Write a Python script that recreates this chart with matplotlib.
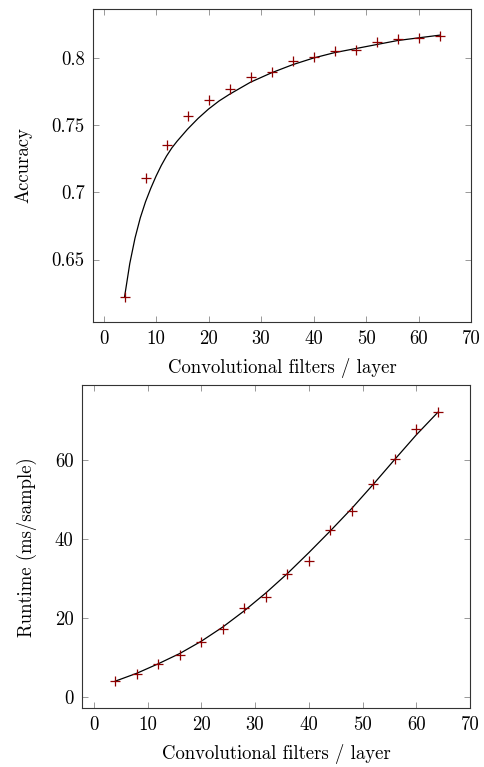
"""
Accuracy and runtime against number of convolutional filters per layer.
"""

import matplotlib
matplotlib.use("Agg")
import matplotlib.pyplot as plt
from matplotlib.ticker import FuncFormatter

plt.rcParams["font.family"] = "cmr10"
plt.rcParams["mathtext.fontset"] = "cm"
plt.rcParams["axes.formatter.use_mathtext"] = True
plt.rcParams["font.size"] = 13.5

# measured points
filters = [4, 8, 12, 16, 20, 24, 28, 32, 36, 40, 44, 48, 52, 56, 60, 64]
accuracy = [0.6222, 0.7104, 0.7351, 0.7572, 0.7688, 0.7768, 0.7862, 0.7894,
            0.7980, 0.8007, 0.8050, 0.8062, 0.8119, 0.8139, 0.8151, 0.8166]
runtime = [3.96, 5.82, 8.34, 10.62, 13.82, 17.19, 22.42, 25.28,
           31.18, 34.30, 42.14, 46.94, 53.94, 60.26, 67.76, 72.06]

# fitted curves
acc_fit_x = [4, 5, 6, 7, 8, 9, 10, 11, 12, 13, 14, 16, 18, 20, 22, 24,
             28, 32, 36, 40, 44, 48, 52, 56, 60, 64]
acc_fit_y = [0.622, 0.647, 0.666, 0.681, 0.693, 0.703, 0.712, 0.720, 0.727,
             0.733, 0.738, 0.747, 0.755, 0.762, 0.768, 0.773, 0.782, 0.789,
             0.795, 0.800, 0.804, 0.807, 0.810, 0.813, 0.815, 0.817]
rt_fit_x = [4, 8, 12, 16, 20, 24, 28, 32, 36, 40, 44, 48, 52, 56, 60, 64]
rt_fit_y = [4.0, 6.0, 8.4, 11.0, 14.1, 17.7, 21.8, 26.3, 31.2, 36.5, 42.0,
            47.7, 53.8, 60.1, 66.3, 72.0]

x_ticks = [0, 10, 20, 30, 40, 50, 60, 70]
acc_ticks = [0.65, 0.7, 0.75, 0.8]
rt_ticks = [0, 20, 40, 60]

mark_color = "#8e0000"
fmt = FuncFormatter(lambda v, p: f"{v:g}")


def style_axis(ax):
    for s in ax.spines.values():
        s.set_color("#333333")
        s.set_linewidth(0.8)
    ax.tick_params(direction="in", top=True, right=True, length=4.5,
                   width=0.6, color="#888888", labelsize=13.5, pad=6)
    ax.xaxis.set_major_formatter(fmt)
    ax.yaxis.set_major_formatter(fmt)


fig = plt.figure(figsize=(4.85, 7.67), dpi=100)

ax1 = fig.add_axes([0.1918, 0.5802, 0.7794, 0.4081])
ax1.plot(acc_fit_x, acc_fit_y, "-", color="black", linewidth=0.9)
ax1.plot(filters, accuracy, "+", color=mark_color, markersize=6.5,
         markeredgewidth=0.9)
ax1.set_xlim(-2, 70)
ax1.set_ylim(0.6035, 0.8365)
ax1.set_xticks(x_ticks)
ax1.set_yticks(acc_ticks)
ax1.set_xlabel("Convolutional filters / layer", labelpad=7)
ax1.set_ylabel("Accuracy", labelpad=14)
style_axis(ax1)

ax2 = fig.add_axes([0.1691, 0.0769, 0.8, 0.4205])
ax2.plot(rt_fit_x, rt_fit_y, "-", color="black", linewidth=0.9)
ax2.plot(filters, runtime, "+", color=mark_color, markersize=6.5,
         markeredgewidth=0.9)
ax2.set_xlim(-2.2, 70)
ax2.set_ylim(-2.8, 78.8)
ax2.set_xticks(x_ticks)
ax2.set_yticks(rt_ticks)
ax2.set_xlabel("Convolutional filters / layer", labelpad=7)
ax2.set_ylabel("Runtime (ms/sample)", labelpad=13)
style_axis(ax2)

fig.savefig("out.png", dpi=100)
